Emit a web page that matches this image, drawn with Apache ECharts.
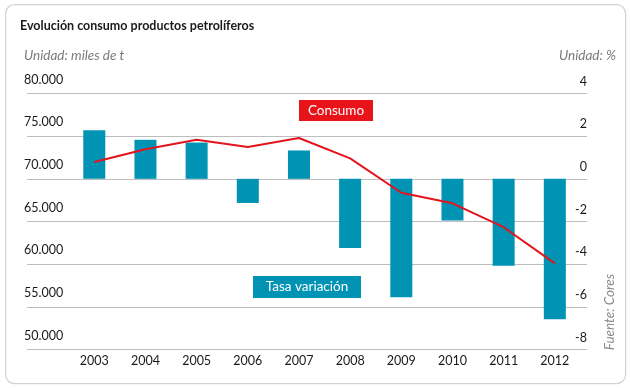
<!DOCTYPE html>
<html>
<head>
<meta charset="utf-8">
<script src="https://cdn.jsdelivr.net/npm/echarts@6/dist/echarts.min.js"></script>
<style>
html,body{margin:0;padding:0;background:#fff;}
#c{width:630px;height:388px;}
</style>
</head>
<body>
<div id="c"></div>
<script>
var years = ['2003','2004','2005','2006','2007','2008','2009','2010','2011','2012'];
var consumo = [71970, 73460, 74590, 73730, 74790, 72400, 68370, 67130, 64330, 60100];
var tasaVariacion = [2.28, 1.83, 1.70, -1.13, 1.33, -3.24, -5.55, -1.95, -4.07, -6.58];
var leftTicks = {min: 50000, max: 80000, interval: 5000};
var rightTicks = {min: -8, max: 4, interval: 2};

var FONT = 'Lato';
var chart = echarts.init(document.getElementById('c'), null, {renderer: 'canvas'});

function fmtThousands(v){
  return String(v).replace(/\B(?=(\d{3})+(?!\d))/g, '.');
}

var option = {
  animation: false,
  backgroundColor: '#fff',
  title: {
    text: 'Evolución consumo productos petrolíferos',
    left: 15, top: 14,
    textStyle: {fontFamily: FONT, fontWeight: 'bold', fontSize: 12.5, color: '#1a1a1a'}
  },
  grid: [
    {left: 27, right: 43, top: 93.5, bottom: 38.5, containLabel: false},
    {left: 68.7, right: 49.6, top: 93.5, bottom: 38.5, containLabel: false}
  ],
  xAxis: [
    {type: 'category', gridIndex: 0, data: years, show: false},
    {type: 'category', gridIndex: 1, data: years,
      axisLine: {show: false}, axisTick: {show: false},
      axisLabel: {fontFamily: FONT, fontSize: 12.5, color: '#1a1a1a', margin: 5}}
  ],
  yAxis: [
    {type: 'value', gridIndex: 0, position: 'left', min: leftTicks.min, max: leftTicks.max, interval: leftTicks.interval,
      axisLine: {show: false}, axisTick: {show: false},
      splitLine: {show: true, lineStyle: {color: '#bdbdbd', width: 1.2}},
      axisLabel: {fontFamily: FONT, fontSize: 12.5, color: '#1a1a1a', align: 'left', margin: 3,
        verticalAlign: 'bottom', lineHeight: 14, padding: [0,0,7,0],
        formatter: function(v){ return fmtThousands(v); }}},
    {type: 'value', gridIndex: 0, position: 'right', min: rightTicks.min, max: rightTicks.max, interval: rightTicks.interval,
      axisLine: {show: false}, axisTick: {show: false}, splitLine: {show: false},
      axisLabel: {fontFamily: FONT, fontSize: 12.5, color: '#1a1a1a', align: 'right', margin: 0,
        verticalAlign: 'bottom', lineHeight: 14, padding: [0,0,5,0]}},
    {type: 'value', gridIndex: 1, position: 'left', min: leftTicks.min, max: leftTicks.max, interval: leftTicks.interval, show: false, splitLine: {show: false}},
    {type: 'value', gridIndex: 1, position: 'right', min: rightTicks.min, max: rightTicks.max, interval: rightTicks.interval, show: false, splitLine: {show: false}}
  ],
  series: [
    {name: 'Tasa variación', type: 'bar', xAxisIndex: 1, yAxisIndex: 3, data: tasaVariacion,
      barWidth: 22, itemStyle: {color: '#0093b4'}, z: 2},
    {name: 'Consumo', type: 'line', xAxisIndex: 1, yAxisIndex: 2, data: consumo,
      symbol: 'none', lineStyle: {color: '#e3141b', width: 2}, z: 3}
  ],
  graphic: [
    {type: 'rect', left: 5, top: 4, z: -10, silent: true,
      shape: {width: 620, height: 379, r: 9},
      style: {fill: '#fff', stroke: '#d2d2d2', lineWidth: 1.2}},
    {type: 'text', left: 24, top: 49,
      style: {text: 'Unidad: miles de t', font: 'italic 13.5px Lato', fill: '#7a7a7a'}},
    {type: 'text', right: 14, top: 49,
      style: {text: 'Unidad: %', font: 'italic 13.5px Lato', fill: '#7a7a7a'}},
    {type: 'group', left: 299, top: 100, children: [
      {type: 'rect', shape: {x: 0, y: 0, width: 74, height: 21}, style: {fill: '#e8141a'}},
      {type: 'text', x: 37, y: 10.5, style: {text: 'Consumo', font: '13.5px Lato', fill: '#fff', align: 'center', verticalAlign: 'middle'}}
    ]},
    {type: 'group', left: 253, top: 276, children: [
      {type: 'rect', shape: {x: 0, y: 0, width: 108, height: 22}, style: {fill: '#0093b4'}},
      {type: 'text', x: 54, y: 11, style: {text: 'Tasa variación', font: '13.5px Lato', fill: '#fff', align: 'center', verticalAlign: 'middle'}}
    ]},
    {type: 'text', x: 610, y: 312, rotation: Math.PI / 2,
      style: {text: 'Fuente: Cores', font: 'italic 13.5px Lato', fill: '#8a8a8a', align: 'center', verticalAlign: 'middle'}}
  ]
};
chart.setOption(option);
</script>
</body>
</html>
